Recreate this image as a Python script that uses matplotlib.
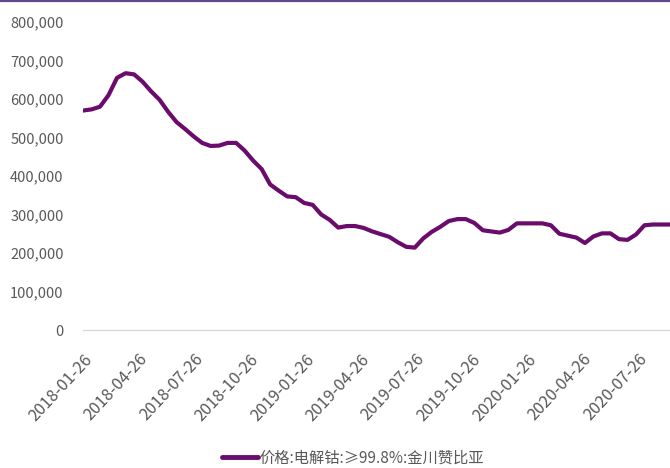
import matplotlib

matplotlib.use("Agg")
import matplotlib.pyplot as plt
import matplotlib.transforms as mtransforms
from matplotlib.lines import Line2D
import pandas as pd

plt.rcParams["font.family"] = ["Noto Sans CJK SC", "DejaVu Sans"]

# Serie quincenal del precio del cobalto electrolítico (yuanes/t)
START = "2018-01-26"
STEP = "14D"
precios = [
    570, 573, 580, 610, 655, 667, 664, 645, 620, 598,
    567, 540, 522, 503, 486, 478, 479, 486, 486, 466,
    440, 418, 378, 362, 347, 345, 330, 325, 300, 286,
    266, 270, 270, 265, 256, 249, 242, 228, 216, 214,
    238, 255, 268, 283, 288, 288, 278, 259, 256, 253,
    260, 277, 277, 277, 277, 272, 250, 245, 240, 226,
    243, 251, 251, 236, 234, 248, 272, 274, 274, 274,
]
precios = [v * 1000 for v in precios]
fechas = pd.date_range(START, periods=len(precios), freq=STEP)

etiquetas_x = [
    "2018-01-26", "2018-04-26", "2018-07-26", "2018-10-26",
    "2019-01-26", "2019-04-26", "2019-07-26", "2019-10-26",
    "2020-01-26", "2020-04-26", "2020-07-26",
]
ticks_y = [0, 100000, 200000, 300000, 400000, 500000, 600000, 700000, 800000]
serie = "价格:电解钴:≥99.8%:金川赞比亚"

COLOR_LINEA = "#6a0c6c"
GRIS = "#595959"

fig = plt.figure(figsize=(6.7, 4.68), dpi=100)
ax = fig.add_axes([83 / 670, 1 - 330 / 468, 1 - 83 / 670, (330 - 22) / 468])

ax.plot(fechas, precios, color=COLOR_LINEA, lw=3.0, solid_joinstyle="round",
        solid_capstyle="round", label=serie)

ax.set_xlim(fechas[0], fechas[-1])
ax.set_ylim(0, 800000)

ax.set_yticks(ticks_y)
ax.set_yticklabels([f"{v:,}" for v in ticks_y])
ax.set_xticks(pd.to_datetime(etiquetas_x))
ax.set_xticklabels(etiquetas_x, rotation=47, ha="right", va="top",
                   rotation_mode="anchor")

ax.tick_params(axis="y", length=0, pad=14, labelsize=10.5, labelcolor=GRIS)
ax.tick_params(axis="x", length=0, pad=15, labelsize=11.8, labelcolor=GRIS)
desplaza = mtransforms.ScaledTranslation(1 / 100, 0, fig.dpi_scale_trans)
for lbl in ax.get_xticklabels():
    lbl.set_transform(lbl.get_transform() + desplaza)

for lado in ["top", "right", "left"]:
    ax.spines[lado].set_visible(False)
ax.spines["bottom"].set_color("#d9d9d9")
ax.spines["bottom"].set_linewidth(1.0)

# franja superior
fig.add_artist(Line2D([0, 1], [0.997, 0.997], transform=fig.transFigure,
                      color="#5e4a86", lw=1.6))

fig.legend(loc="center", bbox_to_anchor=(353 / 670, 1 - 458 / 468), frameon=False,
           fontsize=11, labelcolor=GRIS, handlelength=2.35, handletextpad=0.15,
           borderpad=0)
for h in fig.legends[0].get_lines():
    h.set_linewidth(3.5)

fig.savefig("out.png", dpi=100)
